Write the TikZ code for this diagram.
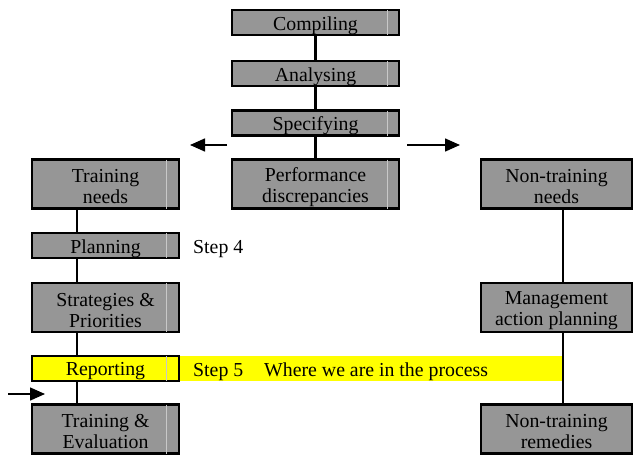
\documentclass[tikz,border=0pt]{standalone}
\usepackage{fontspec}
\setmainfont{Liberation Serif}
\newfontfamily\tnr{Liberation Serif}
\usetikzlibrary{arrows.meta}
\definecolor{boxgray}{RGB}{150,150,150}
\definecolor{cellline}{RGB}{200,200,200}
\definecolor{hiyellow}{RGB}{255,255,0}
\tikzset{
  stage/.style={draw=black, fill=boxgray, line width=2.2pt, inner sep=0pt},
  intext/.style={align=center, inner sep=0pt, yshift=-2.8pt,
    font=\tnr\fontsize{19.8}{21}\selectfont},
  wide/.style={minimum width=167pt},
  col/.style={minimum width=147pt},
  colr/.style={minimum width=151pt},
  one/.style={minimum height=25pt},
  two/.style={minimum height=49pt},
  link/.style={line width=2.2pt},
  flow/.style={line width=1.5pt, -{Triangle[length=15pt,width=13pt]}},
  lbl/.style={font=\tnr\fontsize{19.8}{21}\selectfont, inner sep=0pt, anchor=base west},
}
\begin{document}
\begin{tikzpicture}[x=1pt,y=-1pt]
\useasboundingbox (0,0) rectangle (634,455);
% yellow highlight band
\fill[hiyellow] (179,356) rectangle (562,381);
% centre column
\node[stage,wide,one,label={[intext]center:Compiling}] (comp) at (315.5,22.8) {};
\node[stage,wide,one,label={[intext]center:Analysing}] (anal) at (315.5,73.5) {};
\node[stage,wide,one,label={[intext]center:Specifying}] (spec) at (315.5,123) {};
\node[stage,wide,two,label={[intext]center:Performance\\discrepancies}] (perf) at (315.5,184) {};
% left column
\node[stage,col,two,label={[intext]center:Training\\needs}] (tn) at (105.5,184) {};
\node[stage,col,one,label={[intext]center:Planning}] (plan) at (105.5,245.5) {};
\node[stage,col,two,label={[intext]center:Strategies \&\\Priorities}] (strat) at (105.5,307.5) {};
\node[stage,col,one,fill=hiyellow,label={[intext]center:Reporting}] (rep) at (105.5,368.5) {};
\node[stage,col,two,label={[intext]center:Training \&\\Evaluation}] (te) at (105.5,429) {};
% right column
\node[stage,colr,two,label={[intext]center:Non-training\\needs}] (ntn) at (556.5,184) {};
\node[stage,colr,two,label={[intext]center:Management\\action planning}] (mgmt) at (556.5,307.5) {};
\node[stage,colr,two,label={[intext]center:Non-training\\remedies}] (ntr) at (556.5,429) {};
% faint cell lines
\foreach \b in {comp,anal,spec,perf}{
  \draw[cellline,line width=0.6pt] ([xshift=-13pt,yshift=-1.1pt]\b.north east) -- ([xshift=-13pt,yshift=1.1pt]\b.south east);}
\foreach \b in {tn,plan,strat,rep,te}{
  \draw[cellline,line width=0.6pt] ([xshift=-14pt,yshift=-1.1pt]\b.north east) -- ([xshift=-14pt,yshift=1.1pt]\b.south east);}
% labels
\node[lbl] (s4) at (193,253) {Step 4};
\node[lbl] (s5) at (193,376) {Step 5\hspace{21pt}Where we are in the process};
% column line positions
\coordinate (lx) at (77,0);
\coordinate (rx) at (563,0);
% connectors
\draw[link] (comp) -- (anal);
\draw[link] (anal) -- (spec);
\draw[link] (spec) -- (perf);
\draw[link] (tn.south -| lx) -- (plan.north -| lx);
\draw[link] (plan.south -| lx) -- (strat.north -| lx);
\draw[link] (strat.south -| lx) -- (rep.north -| lx);
\draw[link] (rep.south -| lx) -- (te.north -| lx);
\draw[link] (ntn.south -| rx) -- (mgmt.north -| rx);
\draw[link] (mgmt.south -| rx) -- (ntr.north -| rx);
% arrows
\coordinate (la0) at (227,145);
\coordinate (la1) at (190,145);
\coordinate (ra0) at (407,145);
\coordinate (ra1) at (460,145);
\coordinate (ba0) at (8,394);
\coordinate (ba1) at (45,394);
\draw[flow] (la0) -- (la1);
\draw[flow] (ra0) -- (ra1);
\draw[flow] (ba0) -- (ba1);
\end{tikzpicture}
\end{document}
